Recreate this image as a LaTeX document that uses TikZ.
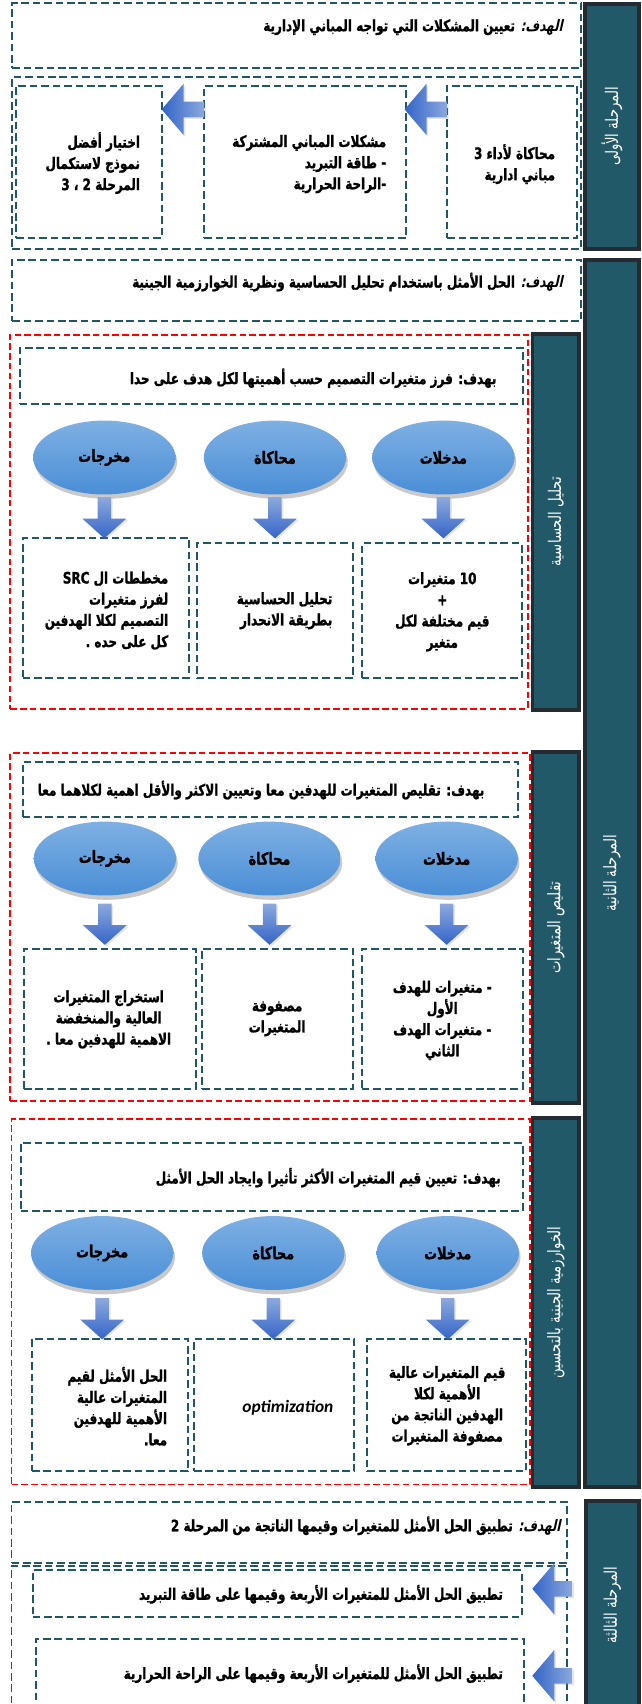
\documentclass[tikz,border=0pt]{standalone}
\usepackage{fontspec}
\usetikzlibrary{shapes.geometric,shapes.arrows,shadows}
\TeXXeTstate=1
\newfontfamily\arabicfont[Script=Arabic,FakeStretch=0.76,BoldFeatures={FakeBold=1.2}]{DejaVu Sans}
\newfontfamily\arabicit[Script=Arabic,FakeStretch=0.76,FakeSlant=0.22]{DejaVu Sans}
\newfontfamily\latinit{Carlito}
\newcommand\AR[1]{\beginR #1\endR}
\newcommand\LR[1]{\beginL #1\endL}
\newcommand\mybox[6]{\node[#1,minimum width={(#5)-(#3)},minimum height={(#6)-(#4)}] (#2) at ({((#3)+(#5))/2},{((#4)+(#6))/2}) {};}
\definecolor{tealc}{HTML}{1F5764}
\definecolor{barfill}{HTML}{225968}
\definecolor{barline}{HTML}{242B33}
\definecolor{elltop}{HTML}{7EB0E3}
\definecolor{ellbot}{HTML}{4A8ED6}
\definecolor{ardark}{HTML}{3464C8}
\definecolor{arlight}{HTML}{8CA9DD}
\tikzset{
  dbox/.style={rectangle,draw=tealc,line width=1.8pt,dash pattern=on 7pt off 3.5pt,inner sep=0pt,outer sep=0pt},
  rbox/.style={rectangle,draw=red,line width=1.8pt,dash pattern=on 6pt off 3pt,inner sep=0pt,outer sep=0pt},
  bar/.style={rectangle,draw=barline,line width=3.5pt,fill=barfill,inner sep=0pt,outer sep=0pt},
  ell/.style={ellipse,minimum width=131pt,minimum height=68pt,inner sep=0pt,top color=elltop,bottom color=ellbot,
    drop shadow={shadow xshift=1.5pt,shadow yshift=-4pt,opacity=0.3,fill=black!70},
    font=\arabicfont\bfseries\fontsize{15.5}{18}\selectfont},
  darrow/.style={single arrow,shape border rotate=270,minimum height=38pt,inner sep=6pt,single arrow head extend=14pt,
    single arrow tip angle=96,top color=arlight,bottom color=ardark,anchor=tail,
    drop shadow={shadow xshift=1.5pt,shadow yshift=-1.5pt,opacity=0.2}},
  larrow/.style={single arrow,shape border rotate=180,minimum height=39pt,inner sep=7pt,single arrow head extend=16.5pt,
    single arrow tip angle=99,left color=ardark,right color=arlight,anchor=tail,
    drop shadow={shadow xshift=1.5pt,shadow yshift=-1.5pt,opacity=0.2}},
  txt/.style={inner sep=0pt,align=right,text=black,font=\arabicfont\bfseries\fontsize{14.5}{19.5}\selectfont},
  ctxt/.style={txt,align=center},
  vlab/.style={rotate=90,text=white,inner sep=0pt,font=\arabicfont\fontsize{16}{16}\selectfont}
}
\begin{document}
\begin{tikzpicture}[x=1pt,y=-1pt]
\useasboundingbox (0,0) rectangle (590,1568);
\clip (0,0) rectangle (590,1568);
% ---------------- Stage 1 ----------------
\mybox{dbox}{g1}{11.3}{3}{535}{63}
\node[txt,anchor=east] (g1t) at (518,25) {\AR{{\arabicit\bfseries الهدف:} تعيين المشكلات التي تواجه المباني الإدارية}};
\mybox{bar}{bar1}{538}{3.7}{588}{229}
\node[vlab] (bar1t) at (bar1) {\AR{المرحلة الأولى}};
\mybox{dbox}{c1}{11.3}{71}{535}{229}
\mybox{dbox}{b1r}{411.5}{79}{531}{219}
\mybox{dbox}{b1m}{188}{79}{374}{219}
\mybox{dbox}{b1l}{15}{79}{149}{219}
\node[txt,anchor=east] (b1rt) at (511,151) {\AR{محاكاة لأداء 3}\\\AR{مباني ادارية}};
\node[txt,anchor=east] (b1mt) at (355.6,151) {\AR{مشكلات المباني المشتركة}\\\AR{- طاقة التبريد}\\\AR{-الراحة الحرارية}};
\node[txt,anchor=east] (b1lt) at (129,150) {\AR{اختيار أفضل}\\\AR{نموذج لاستكمال}\\\AR{المرحلة 2 ، 3}};
\node[larrow] (a1a) at (b1r.west |- 0,100.7) {};
\node[larrow] (a1b) at (b1m.west |- 0,100.7) {};
% ---------------- Stage 2 ----------------
\mybox{dbox}{g2}{11.3}{239}{535}{295}
\node[txt,anchor=east] (g2t) at (518,259.5) {\AR{{\arabicit\bfseries الهدف:} الحل الأمثل باستخدام تحليل الحساسية ونظرية الخوارزمية الجينية}};
\mybox{bar}{bar2}{538}{239}{588}{1368}
\node[vlab] (bar2t) at (bar2) {\AR{المرحلة الثانية}};
% --- section 1
\mybox{rbox}{r1}{9.5}{308}{486}{652}
\mybox{bar}{sb1}{490}{307}{533}{653}
\node[vlab] (sb1t) at (sb1) {\AR{تحليل الحساسية}};
\mybox{dbox}{sg1}{18}{320}{481}{372}
\node[txt,anchor=east] (sg1t) at (457,348) {\AR{بهدف: فرز متغيرات التصميم حسب أهميتها لكل هدف على حدا}};
\node[ell] (e1o) at (96,421) {\AR{مخرجات}};
\node[ell] (e1s) at (253,421) {\AR{محاكاة}};
\node[ell] (e1i) at (408,421) {\AR{مدخلات}};
\mybox{dbox}{b1o}{20.8}{495}{174}{624}
\mybox{dbox}{b1s}{181}{500}{325}{624}
\mybox{dbox}{b1i}{333}{500}{480}{624}
\node[darrow] (d1o) at ([yshift=-2pt]e1o.south) {};
\node[darrow] (d1s) at ([yshift=-2pt]e1s.south) {};
\node[darrow] (d1i) at ([yshift=-2pt]e1i.south) {};
\node[ctxt] (b1it) at (407,563) {\AR{\LR{10} متغيرات}\\+\\\AR{قيم مختلفة لكل}\\\AR{متغير}};
\node[txt,anchor=east] (b1st) at (306,562) {\AR{تحليل الحساسية}\\\AR{بطريقة الانحدار}};
\node[txt,anchor=east] (b1ot) at (155,562) {\AR{مخططات ال \LR{SRC}}\\\AR{لفرز متغيرات}\\\AR{التصميم لكلا الهدفين}\\\AR{كل على حده .}};
% --- section 2
\mybox{rbox}{r2}{9.5}{693}{488}{1013.5}
\mybox{bar}{sb2}{490}{692}{533}{1015}
\node[vlab] (sb2t) at (sb2) {\AR{تقليص المتغيرات}};
\mybox{dbox}{sg2}{20.8}{701}{477}{752}
\node[txt,anchor=east] (sg2t) at (446,727) {\AR{بهدف: تقليص المتغيرات للهدفين معا وتعيين الاكثر والأقل اهمية لكلاهما معا}};
\node[ell] (e2o) at (96.5,790) {\AR{مخرجات}};
\node[ell] (e2s) at (248,790) {\AR{محاكاة}};
\node[ell] (e2i) at (411,790) {\AR{مدخلات}};
\mybox{dbox}{b2o}{22}{873}{180}{1002}
\mybox{dbox}{b2s}{186}{873}{325}{1002}
\mybox{dbox}{b2i}{333}{873}{481}{1002}
\node[darrow] (d2o) at ([yshift=-7pt]e2o.south) {};
\node[darrow] (d2s) at ([yshift=-7pt]e2s.south) {};
\node[darrow] (d2i) at ([yshift=-7pt]e2i.south) {};
\node[ctxt] (b2it) at (407,939) {\AR{- متغيرات للهدف}\\\AR{الأول}\\\AR{- متغيرات الهدف}\\\AR{الثاني}};
\node[ctxt] (b2st) at (255,937.5) {\AR{مصفوفة}\\\AR{المتغيرات}};
\node[ctxt] (b2ot) at (100,938) {\AR{استخراج المتغيرات}\\\AR{العالية والمنخفضة}\\\AR{الاهمية للهدفين معا .}};
% --- section 3
\mybox{rbox}{r3}{10.6}{1030}{488}{1366}
\mybox{bar}{sb3}{490}{1029}{533}{1368}
\node[vlab] (sb3t) at (sb3) {\AR{الخوارزمية الجينية بالتحسين}};
\mybox{dbox}{sg3}{19}{1052}{481}{1114}
\node[txt,anchor=east] (sg3t) at (461,1083.6) {\AR{بهدف: تعيين قيم المتغيرات الأكثر تأثيرا وايجاد الحل الأمثل}};
\node[ell] (e3o) at (94,1153) {\AR{مخرجات}};
\node[ell] (e3s) at (251.5,1153) {\AR{محاكاة}};
\node[ell] (e3i) at (412,1153) {\AR{مدخلات}};
\mybox{dbox}{b3o}{29.5}{1232}{173}{1354}
\mybox{dbox}{b3s}{178.5}{1232}{326}{1354}
\mybox{dbox}{b3i}{338}{1232}{484}{1354}
\node[darrow] (d3o) at ([yshift=-7pt]e3o.south) {};
\node[darrow] (d3s) at ([yshift=-7pt]e3s.south) {};
\node[darrow] (d3i) at ([yshift=-7pt]e3i.south) {};
\node[ctxt] (b3it) at (411.5,1293.5) {\AR{قيم المتغيرات عالية}\\\AR{الأهمية لكلا}\\\AR{الهدفين الناتجة من}\\\AR{مصفوفة المتغيرات}};
\node[inner sep=0pt,anchor=east,font=\latinit\bfseries\itshape\fontsize{16}{18}\selectfont] (b3st) at (307,1295) {optimization};
\node[txt,anchor=east] (b3ot) at (154,1294) {\AR{الحل الأمثل لقيم}\\\AR{المتغيرات عالية}\\\AR{الأهمية للهدفين}\\\AR{معا.}};
% ---------------- Stage 3 ----------------
\mybox{bar}{bar3}{539}{1381}{588}{1590}
\node[vlab] (bar3t) at (563.5,1477) {\AR{المرحلة الثالثة}};
\mybox{dbox}{g3}{10.6}{1382}{522}{1438}
\node[txt,anchor=east] (g3t) at (516,1404) {\AR{{\arabicit\bfseries الهدف:} تطبيق الحل الأمثل للمتغيرات وقيمها الناتجة من المرحلة 2}};
\mybox{dbox}{c3}{10.6}{1440.6}{522}{1600}
\mybox{dbox}{b31}{30}{1445}{480}{1488}
\mybox{dbox}{b32}{33}{1508}{482}{1600}
\node[txt,anchor=east] (b31t) at (463,1467) {\AR{تطبيق الحل الأمثل للمتغيرات الأربعة وقيمها على طاقة التبريد}};
\node[txt,anchor=east] (b32t) at (463,1540) {\AR{تطبيق الحل الأمثل للمتغيرات الأربعة وقيمها على الراحة الحرارية}};
\coordinate (t31) at (527,1462);
\coordinate (t32) at (527,1542);
\node[larrow,minimum height=37pt] (a31) at (t31) {};
\node[larrow,minimum height=37pt] (a32) at (t32) {};
\end{tikzpicture}
\end{document}
